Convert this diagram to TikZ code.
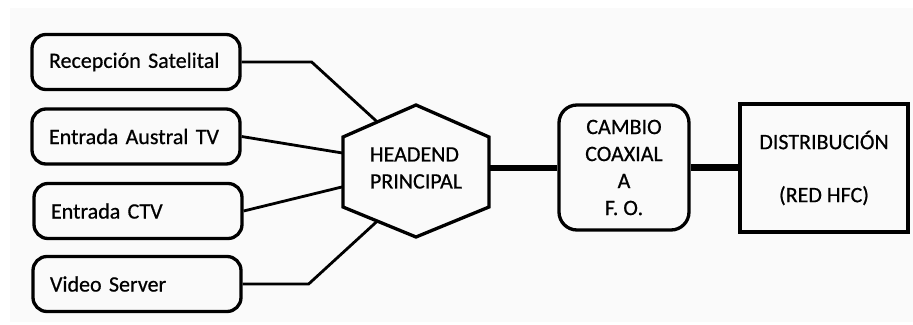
\documentclass[tikz,border=0pt]{standalone}
\usepackage{fontspec}
\setmainfont{Carlito}[FakeBold=0.6]
\usetikzlibrary{positioning,calc}

\begin{document}
\begin{tikzpicture}[x=1pt,y=-1pt,
    txt/.style={font=\fontsize{22}{27}\selectfont},
    srcbox/.style={txt, draw, line width=3.3pt, rounded corners=14pt,
      minimum width=208pt, minimum height=55pt, text width=174pt,
      inner xsep=17pt, align=left},
    link/.style={line width=2.8pt, line join=miter},
    trunk/.style={line width=6.5pt}]
  \useasboundingbox (0,0) rectangle (913,324);
  \fill[black!2] (10,8) rectangle (913,322);

  % fuentes de entrada
  \node[srcbox] (sat) at (136,62) {Recepción Satelital};
  \node[srcbox] (aus) at (136,136.5) {\raisebox{-2pt}{Entrada Austral TV}};
  \node[srcbox] (ctv) at (138,211) {\raisebox{-2pt}{Entrada CTV}};
  \node[srcbox] (vid) at (137,284) {\raisebox{-3pt}{Video Server}};

  % headend
  \node[txt, align=left] (hub) at (416,168) {HEADEND\\PRINCIPAL};
  \coordinate (h1) at (416,105);
  \coordinate (h2) at (489,137);
  \coordinate (h3) at (489,207);
  \coordinate (h4) at (416,237);
  \coordinate (h5) at (343,207);
  \coordinate (h6) at (343,137);
  \draw[line width=3.3pt, line join=miter]
    (h1) -- (h2) -- (h3) -- (h4) -- (h5) -- (h6) -- cycle;

  \node[txt, draw, line width=3.3pt, rounded corners=18pt, minimum width=130pt,
    minimum height=125pt, align=center] (fo) at (624,167.5)
    {CAMBIO\\COAXIAL\\A\\F. O.};
  \node[txt, draw, line width=3.3pt, minimum width=168pt, minimum height=128pt,
    align=center] (dist) at (824,168) {DISTRIBUCIÓN\\[26pt](RED HFC)};

  \coordinate (inA) at ($(h6)!0.47!(h1)$);
  \coordinate (inB) at ($(h6)!0.23!(h5)$);
  \coordinate (inC) at ($(h6)!0.71!(h5)$);
  \coordinate (inD) at ($(h5)!0.47!(h4)$);
  \coordinate (out) at ($(h2)!0.44!(h3)$);

  \draw[link] (sat.east) -- ++(70,0) -- (inA);
  \draw[link] (aus.east) -- (inB);
  \draw[link] (ctv.east) -- (inC);
  \draw[link] (vid.east) -- ++(66,0) -- (inD);
  \draw[trunk] (out) -- (out -| fo.west);
  \draw[trunk] (fo.east) -- (fo.east -| dist.west);
\end{tikzpicture}
\end{document}
